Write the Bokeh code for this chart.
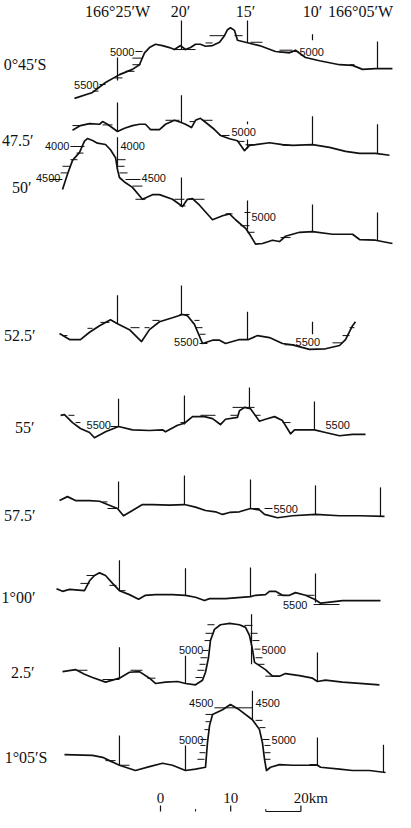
from bokeh.plotting import figure
from bokeh.models import Range1d
from bokeh.core.properties import value
from bokeh.embed import file_html
from bokeh.resources import INLINE

# ------------------------------------------------------------------ data
ROW_NAMES = ["0°45′S", "47.5′", "50′", "52.5′", "55′", "57.5′", "1°00′", "2.5′", "1°05′S"]
LON_TICKS = [25, 20, 15, 10, 5]               # minutes of 166°W
LON_TICK_LABELS = ["166°25′W", "20′", "15′", "10′", "166°05′W"]

# profiles: longitude (minutes west of 166°) and depth (m)
P1_LON = [28.31, 26.92, 25.92, 24.85, 23.85, 23.31, 22.92, 22.54, 22.08, 21.54, 21.00, 20.62, 20.15, 19.77,
          19.38, 19.00, 18.62, 18.23, 17.69, 17.15, 16.77, 16.54, 16.31, 16.00, 15.77, 15.15, 14.08, 12.85,
          11.77, 11.31, 10.54, 9.46, 7.92, 6.92, 6.15, 5.15, 3.85]
P1_DEP = [5710, 5620, 5470, 5350, 5270, 5200, 5020, 4940, 4890, 4910, 4940, 4970, 4910, 4970,
          4940, 4890, 4890, 4920, 4910, 4860, 4760, 4670, 4640, 4680, 4830, 4860, 4910, 5000,
          5020, 4980, 5090, 5140, 5200, 5210, 5270, 5260, 5260]

P2_LON = [28.46, 27.85, 27.15, 26.38, 26.15, 25.77, 25.00, 24.46, 23.85, 23.31, 22.85, 22.46, 21.77, 21.31,
          20.62, 20.15, 19.77, 19.31, 19.00, 18.62, 18.23, 17.54, 17.08, 16.38, 15.77, 15.23, 14.85, 14.38,
          13.31, 12.31, 11.54, 10.00, 8.69, 7.46, 6.38, 5.15, 4.08]
P2_DEP = [4920, 4850, 4820, 4830, 4790, 4830, 4940, 4890, 4850, 4830, 4830, 4910, 4910, 4830,
          4770, 4800, 4830, 4880, 4770, 4740, 4800, 4910, 5000, 5050, 5080, 5230, 5150, 5140,
          5110, 5140, 5150, 5140, 5180, 5240, 5270, 5270, 5300]

P3_LON = [29.23, 28.85, 28.46, 27.92, 27.54, 27.31, 26.92, 26.54, 25.92, 25.54, 25.15, 25.00, 24.85, 24.38,
          23.85, 23.08, 22.31, 21.77, 20.77, 20.00, 19.62, 19.23, 18.69, 17.69, 16.92, 16.38, 15.92, 15.15,
          14.77, 14.38, 13.85, 13.08, 12.54, 12.08, 11.00, 10.00, 8.46, 6.92, 6.38, 5.15, 3.85]
P3_DEP = [4650, 4420, 4210, 4090, 3920, 3880, 3910, 3950, 3970, 4050, 4170, 4350, 4470, 4550,
          4620, 4800, 4730, 4730, 4800, 4910, 4800, 4790, 4890, 5110, 5050, 5020, 5110, 5240,
          5350, 5480, 5470, 5420, 5440, 5360, 5300, 5290, 5330, 5330, 5410, 5420, 5470]

P4_LON = [29.46, 28.69, 27.85, 27.15, 26.38, 25.54, 25.00, 24.08, 23.15, 22.54, 21.77, 20.77, 20.00, 19.62,
          19.08, 18.46, 17.69, 17.15, 16.69, 15.62, 14.92, 14.23, 13.31, 12.31, 11.54, 10.23, 9.00, 7.92,
          7.46, 6.92, 6.69]
P4_DEP = [5350, 5440, 5440, 5330, 5230, 5140, 5200, 5290, 5470, 5290, 5170, 5110, 5060, 5080,
          5210, 5500, 5450, 5450, 5500, 5440, 5440, 5380, 5410, 5500, 5520, 5590, 5580, 5530,
          5440, 5230, 5170]

P5_LON = [29.38, 29.08, 28.46, 27.85, 27.15, 26.77, 25.92, 24.92, 23.85, 22.54, 21.54, 21.31, 20.38, 19.85,
          19.23, 18.31, 17.69, 17.08, 16.69, 15.77, 15.62, 15.23, 14.77, 14.08, 13.62, 12.92, 12.31, 11.69,
          11.38, 10.77, 9.85, 9.00, 7.92, 6.92, 5.92]
P5_DEP = [5330, 5320, 5440, 5530, 5590, 5670, 5580, 5500, 5550, 5560, 5550, 5580, 5480, 5450,
          5350, 5350, 5380, 5470, 5390, 5360, 5260, 5210, 5230, 5420, 5390, 5350, 5410, 5610,
          5550, 5550, 5550, 5590, 5640, 5620, 5620]

P6_LON = [29.46, 28.85, 28.23, 27.15, 26.38, 25.77, 25.00, 24.54, 23.85, 23.08, 22.31, 21.00, 19.85, 19.00,
          18.23, 17.46, 16.92, 16.38, 15.62, 14.77, 14.08, 13.69, 12.69, 11.54, 9.77, 7.92, 6.38, 4.46]
P6_DEP = [5380, 5320, 5380, 5380, 5390, 5440, 5500, 5610, 5530, 5440, 5440, 5450, 5440, 5480,
          5530, 5550, 5590, 5560, 5550, 5500, 5520, 5590, 5640, 5610, 5590, 5610, 5610, 5620]

P7_LON = [29.69, 29.23, 28.69, 27.54, 27.15, 26.77, 26.38, 25.92, 25.38, 24.85, 24.08, 23.38, 22.85, 22.08,
          20.77, 19.77, 19.00, 18.31, 17.92, 16.69, 14.77, 14.38, 13.62, 13.31, 12.85, 12.31, 11.77, 11.31,
          10.54, 9.85, 9.38, 9.00, 7.69, 6.38, 4.77]
P7_DEP = [5260, 5300, 5270, 5290, 5140, 5060, 5020, 5060, 5180, 5290, 5350, 5420, 5360, 5350,
          5350, 5360, 5390, 5440, 5410, 5410, 5380, 5360, 5350, 5300, 5300, 5360, 5360, 5320,
          5360, 5420, 5480, 5470, 5440, 5440, 5440]

P8_LON = [29.23, 28.23, 27.54, 26.92, 25.92, 24.85, 24.08, 23.31, 22.54, 22.08, 21.31, 20.38, 19.77, 19.00,
          18.46, 18.23, 18.00, 17.85, 17.54, 17.08, 16.38, 15.62, 15.15, 14.85, 14.62, 14.46, 14.08, 13.62,
          13.08, 12.54, 12.08, 11.00, 10.00, 9.62, 9.00, 7.69, 6.38, 4.85]
P8_DEP = [5320, 5290, 5360, 5410, 5480, 5420, 5330, 5320, 5420, 5500, 5480, 5470, 5500, 5520,
          5450, 5330, 5110, 4850, 4680, 4610, 4590, 4610, 4650, 4770, 4980, 5180, 5230, 5290,
          5390, 5390, 5350, 5380, 5420, 5470, 5450, 5480, 5500, 5520]

P9_LON = [29.08, 26.92, 26.15, 25.62, 24.85, 24.38, 23.62, 22.54, 21.54, 20.77, 19.77, 19.00, 18.23, 18.08,
          17.92, 17.69, 16.92, 16.31, 15.62, 14.62, 14.08, 13.85, 13.69, 13.54, 13.23, 12.54, 11.54, 10.54,
          9.62, 9.38, 7.92, 6.92, 5.62, 4.38]
P9_DEP = [5260, 5270, 5300, 5350, 5420, 5450, 5500, 5440, 5390, 5420, 5500, 5480, 5450, 5080,
          4820, 4650, 4580, 4500, 4580, 4730, 4880, 5080, 5330, 5500, 5450, 5410, 5420, 5420,
          5420, 5450, 5480, 5500, 5500, 5530]

PROFILES = [(P1_LON, P1_DEP), (P2_LON, P2_DEP), (P3_LON, P3_DEP), (P4_LON, P4_DEP), (P5_LON, P5_DEP),
            (P6_LON, P6_DEP), (P7_LON, P7_DEP), (P8_LON, P8_DEP), (P9_LON, P9_DEP)]

# longitude marks of each profile: longitude, upper and lower depth (m)
MK_LON = [[25.00, 20.08, 15.00, 10.00, 5.00],
          [25.00, 20.08, 15.00, 15.00, 10.00, 5.00],
          [25.00, 20.08, 15.00, 10.00, 5.00],
          [25.00, 20.08, 15.00, 10.00],
          [24.92, 19.85, 14.85, 9.85],
          [24.92, 19.85, 14.77, 9.77, 4.77],
          [24.85, 19.77, 14.77, 9.77],
          [24.85, 19.77, 14.69, 9.62],
          [24.85, 19.77, 14.62, 9.62, 4.54]]
MK_TOP = [[5090, 4530, 4530, 4740, 4850],
          [4500, 4390, 4790, 5060, 4710, 4830],
          [3860, 4470, 4820, 4880, 5000],
          [4770, 4620, 5020, 5170],
          [5080, 5030, 4910, 5120],
          [5090, 5000, 5060, 5150, 5180],
          [4830, 4950, 4940, 5030],
          [4950, 5080, 4450, 5030],
          [4970, 5120, 4290, 5000, 5110]]
MK_BOT = [[5440, 4970, 4860, 4830, 5260],
          [4940, 4800, 4830, 5200, 5140, 5270],
          [4350, 4910, 5260, 5290, 5420],
          [5200, 5060, 5440, 5360],
          [5500, 5470, 5210, 5550],
          [5500, 5440, 5500, 5590, 5620],
          [5290, 5360, 5380, 5470],
          [5420, 5500, 5210, 5470],
          [5420, 5500, 4730, 5420, 5530]]

# 100 m depth ticks: row, longitude from, longitude to, depth (m)
DASH_ROW = [0] * 16 + [1] * 10 + [2] * 20 + [3] * 15 + [4] * 9 + [5] * 4 + [6] * 7 + [7] * 19 + [8] * 17
DASH_LON0 = [23.62, 23.85, 23.85, 24.38, 25.23, 26.38, 26.92, 20.62, 18.23, 17.92, 16.00, 14.77, 12.54, 12.54, 11.54, 7.15,
             28.46, 26.15, 22.54, 21.31, 19.46, 18.46, 17.15, 15.77, 15.15, 12.31,
             28.62, 28.15, 28.62, 29.23, 29.38, 30.23, 25.00, 25.00, 24.85, 24.38, 23.85, 23.62, 20.62, 19.46, 20.23,
             16.69, 15.54, 15.00, 15.23, 12.46,
             29.23, 27.31, 26.31, 24.00, 22.92, 22.31, 20.23, 19.08, 19.00, 18.69, 18.69, 12.15, 8.46, 7.69, 7.15,
             28.77, 28.23, 25.54, 20.15, 18.62, 16.31, 16.15, 14.46, 12.31,
             26.15, 25.77, 14.77, 13.69,
             27.85, 27.38, 25.62, 24.85, 12.69, 10.54, 9.92,
             18.08, 18.23, 18.31, 18.46, 18.62, 18.69, 18.85, 19.00, 15.23, 14.77, 14.62, 14.46, 14.38, 14.23,
             13.62, 28.08, 24.00, 26.15, 22.69,
             18.23, 18.23, 18.31, 18.62, 18.62, 18.69, 18.85, 14.38, 14.08, 13.85, 13.69, 13.69, 13.69, 17.54,
             25.92, 24.85, 10.23]
DASH_LON1 = [23.08, 23.08, 23.23, 23.69, 24.62, 25.92, 26.46, 19.00, 17.69, 16.77, 15.38, 13.85, 11.54, 11.54, 11.08, 6.77,
             27.85, 25.38, 21.77, 20.23, 19.00, 17.69, 16.38, 15.23, 14.38, 11.54,
             27.54, 27.62, 28.08, 28.62, 28.85, 29.23, 24.38, 24.46, 24.23, 23.23, 23.08, 22.85, 19.85, 18.31, 19.77,
             16.15, 14.85, 14.46, 14.77, 11.69,
             28.85, 26.92, 25.62, 23.31, 22.54, 21.77, 19.46, 18.69, 18.46, 18.23, 18.08, 11.38, 7.69, 7.15, 6.77,
             28.31, 27.85, 24.85, 19.77, 17.46, 15.77, 14.46, 14.00, 11.69,
             25.77, 25.00, 14.08, 13.08,
             27.15, 26.69, 25.08, 24.38, 12.08, 9.85, 7.92,
             17.54, 17.69, 17.85, 18.00, 18.08, 18.23, 18.31, 18.46, 14.62, 14.23, 14.08, 14.00, 13.85, 13.69,
             12.69, 27.31, 23.08, 24.85, 22.08,
             17.69, 17.85, 17.92, 18.15, 18.23, 18.23, 18.31, 13.85, 13.62, 13.31, 13.23, 13.23, 13.23, 14.62,
             25.15, 24.08, 9.62]
DASH_DEP = [5000, 5100, 5200, 5300, 5400, 5500, 5600, 4970, 4870, 4760, 4760, 4860, 4980, 5010, 5000, 5200,
            4850, 4840, 4910, 4770, 4790, 4770, 5000, 5090, 5140, 5150,
            4000, 4100, 4200, 4300, 4400, 4500, 4200, 4300, 4400, 4500, 4600, 4800, 4800, 4800, 4900,
            5020, 5200, 5300, 5000, 5380,
            5380, 5270, 5180, 5260, 5260, 5150, 5060, 5150, 5260, 5360, 5500, 5520, 5490, 5380, 5260,
            5330, 5440, 5500, 5440, 5330, 5330, 5210, 5330, 5440,
            5400, 5500, 5500, 5500,
            5180, 5060, 5210, 5290, 5360, 5360, 5500,
            4610, 4740, 4850, 5000, 5110, 5210, 5300, 5410, 4620, 4740, 4850, 4980, 5110, 5210,
            5390, 5300, 5300, 5440, 5420,
            4650, 4760, 4880, 5030, 5120, 5230, 5330, 4740, 4850, 5030, 5120, 5230, 5330, 4550,
            5350, 5420, 5410]

# depth labels: row, longitude, depth, text, side of the anchor
LBL_ROW = [0, 0, 0, 1, 2, 2, 2, 2, 2, 3, 3, 4, 4, 5, 6, 7, 7, 8, 8, 8, 8]
LBL_LON = [23.62, 26.38, 11.08, 16.31, 28.62, 24.85, 29.31, 23.23, 14.77, 18.69, 11.38, 27.46, 9.08, 13.08,
           10.31, 18.31, 14.00, 17.54, 14.46, 18.31, 13.23]
LBL_DEP = [5000, 5500, 5000, 4940, 4000, 4000, 4470, 4470, 5070, 5470, 5470, 5470, 5470, 5510,
           5500, 5000, 5000, 4470, 4470, 5030, 5030]
LBL_TXT = ["5000", "5500", "5000", "5000", "4000", "4000", "4500", "4500", "5000", "5500", "5500", "5500", "5500",
           "5500", "5500", "5000", "5000", "4500", "4500", "5000", "5000"]
LBL_SIDE = ["right", "right", "left", "left", "right", "left", "right", "left", "left", "right", "left", "left",
            "left", "left", "right", "right", "left", "right", "left", "right", "left"]

SCALE_KM = [0, 10, 20]
SCALE_LABELS = ["0", "10", "20km"]
SCALE_MINOR_KM = [5, 15]

# ------------------------------------------------------------------ layout
W, H = 395, 812
K = 0.066                 # px per metre of depth
PX_PER_MIN = 13.0         # px per minute of longitude
ROW_SHIFT = [-4227, -2955, -1788, -303, 955, 2197, 3652, 4848, 6167]   # vertical stacking (m)
KM_PER_MIN = 1.852


def lx(px):   # page pixel -> longitude minutes
    return 25 - (px - 125) / PX_PER_MIN


def ly(px):   # page pixel -> plot y
    return (px - 8) / K


SERIF = value("Liberation Serif")
SANS = value("Liberation Sans")
INK = "#111111"

p = figure(width=W, height=H, output_backend="svg", toolbar_location=None,
           x_axis_type=None, y_axis_type=None, min_border=0,
           x_range=Range1d(lx(8), lx(8 + W)), y_range=Range1d(ly(8 + H), ly(8)))
p.outline_line_color = None
p.background_fill_color = "white"
p.border_fill_color = "white"

# profiles
for r, (lon, dep) in enumerate(PROFILES):
    p.line(lon, [d + ROW_SHIFT[r] for d in dep], line_color=INK, line_width=1.7, line_join="round")

# longitude marks
for r in range(len(MK_LON)):
    p.segment(MK_LON[r], [d + ROW_SHIFT[r] for d in MK_TOP[r]],
              MK_LON[r], [d + ROW_SHIFT[r] for d in MK_BOT[r]], line_color=INK, line_width=1.2)

# depth ticks
p.segment(DASH_LON0, [d + ROW_SHIFT[r] for d, r in zip(DASH_DEP, DASH_ROW)],
          DASH_LON1, [d + ROW_SHIFT[r] for d, r in zip(DASH_DEP, DASH_ROW)],
          line_color=INK, line_width=1.0)

# depth labels
for side, off in (("left", 1), ("right", -1)):
    idx = [i for i, s in enumerate(LBL_SIDE) if s == side]
    p.text([LBL_LON[i] for i in idx], [LBL_DEP[i] + ROW_SHIFT[LBL_ROW[i]] for i in idx],
           text=[LBL_TXT[i] for i in idx], text_font=SANS, text_font_size="11px",
           text_align=side, text_baseline="middle", text_color=INK, x_offset=off)

# header longitudes
p.text(LON_TICKS, [ly(19)] * len(LON_TICKS), text=LON_TICK_LABELS, text_font=SERIF,
       text_font_size="16px", text_align="center", text_baseline="middle", text_color=INK,
       x_offset=[0, -2, -2, 0, -17])

# row (latitude) labels
ROW_LABEL_RIGHT = [54, 41, 39, 43, 42, 43, 43, 42, 55]
ROW_LABEL_Y = [72, 148, 195, 343, 435, 523, 605, 680, 765]
p.text([lx(v) for v in ROW_LABEL_RIGHT], [ly(v) for v in ROW_LABEL_Y], text=ROW_NAMES,
       text_font=SERIF, text_font_size="16px", text_align="right", text_baseline="middle", text_color=INK)

# scale bar
lon0 = lx(168)
s_lon = [lon0 - km / KM_PER_MIN for km in SCALE_KM]
m_lon = [lon0 - km / KM_PER_MIN for km in SCALE_MINOR_KM]
p.text(s_lon, [ly(805)] * 3, text=SCALE_LABELS, text_font=SERIF, text_font_size="15px",
       text_align="center", text_baseline="middle", text_color=INK, x_offset=[0, 0, 10])
p.segment(s_lon, [ly(813)] * 3, s_lon, [ly(819)] * 3, line_color=INK, line_width=1.2)
p.segment(m_lon, [ly(816.5)] * 2, m_lon, [ly(819)] * 2, line_color=INK, line_width=1.0)
p.segment([m_lon[1]], [ly(819)], [s_lon[2]], [ly(819)], line_color=INK, line_width=1.2)

open("out.html", "w").write(file_html(p, INLINE))
